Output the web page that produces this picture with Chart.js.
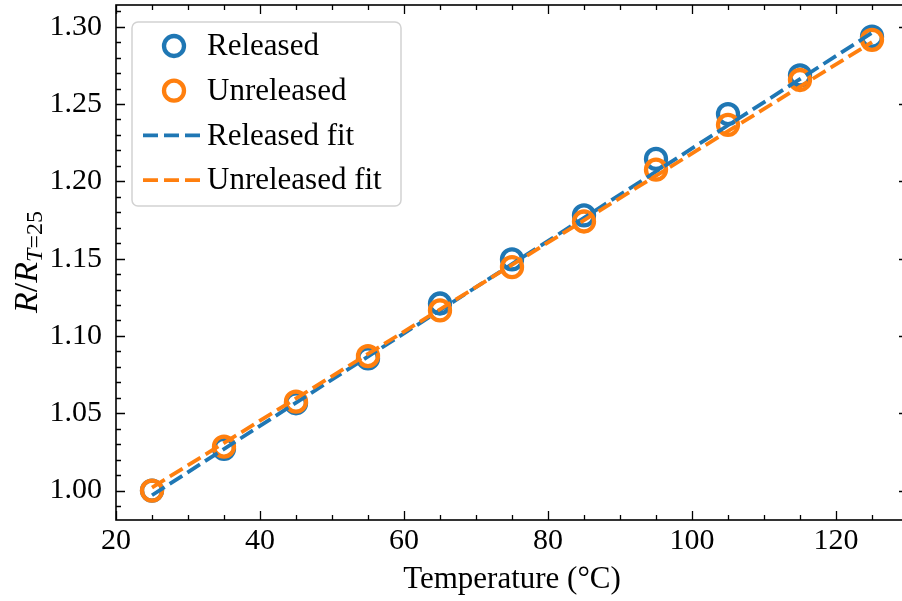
<!DOCTYPE html>
<html>
<head>
<meta charset="utf-8">
<script src="https://cdn.jsdelivr.net/npm/chart.js@4"></script>
<style>
  html, body { margin: 0; padding: 0; background: #fff; overflow: hidden; }
  #wrap { width: 902px; height: 601px; overflow: hidden; }
</style>
</head>
<body>
<div id="wrap"><canvas id="chart" width="910" height="601"></canvas></div>
<script>
// данные
const TEMPS = [25, 35, 45, 55, 65, 75, 85, 95, 105, 115, 125];
const RELEASED = [1.000, 1.027, 1.0565, 1.0855, 1.121, 1.1495, 1.178, 1.2145, 1.2435, 1.2685, 1.2935];
const UNRELEASED = [1.000, 1.0285, 1.0575, 1.087, 1.1165, 1.1445, 1.174, 1.2075, 1.2365, 1.2655, 1.2915];
const FIT_T = [25, 125];
const RELEASED_FIT = [0.997, 1.296];
const UNRELEASED_FIT = [1.002, 1.290];
const X_TICKS = [20, 40, 60, 80, 100, 120];
const Y_TICKS = [1.00, 1.05, 1.10, 1.15, 1.20, 1.25, 1.30];

const BLUE = '#1f77b4';
const ORANGE = '#ff7f0e';
const SERIF = '"Liberation Serif", "DejaVu Serif", serif';

function toPoints(xs, ys) {
  return xs.map((x, i) => ({ x: x, y: ys[i] }));
}

// убрать авто-отступы chart.js, чтобы область графика была на месте
function noPadding(scale) {
  scale.paddingLeft = 0;
  scale.paddingRight = 0;
  scale.paddingTop = 0;
  scale.paddingBottom = 0;
}

// рамка, тики внутрь, легенда и подпись оси Y
const decor = {
  id: 'decor',
  afterDraw(chart) {
    const ctx = chart.ctx;
    const a = chart.chartArea;
    const xs = chart.scales.x;
    const ys = chart.scales.y;

    ctx.save();
    ctx.strokeStyle = '#000';
    ctx.lineWidth = 1.6;
    ctx.strokeRect(a.left, a.top, a.right - a.left, a.bottom - a.top);

    ctx.lineWidth = 1.3;
    ctx.beginPath();
    for (let v = 20; v <= 130.001; v += 5) {
      const px = Math.round(xs.getPixelForValue(v)) + 0.5;
      const len = (Math.round(v) % 20 === 0) ? 9 : 5;
      ctx.moveTo(px, a.bottom); ctx.lineTo(px, a.bottom - len);
      ctx.moveTo(px, a.top); ctx.lineTo(px, a.top + len);
    }
    for (let k = 99; k <= 131; k++) {
      const v = k / 100;
      if (v < ys.min || v > ys.max) continue;
      const py = Math.round(ys.getPixelForValue(v)) + 0.5;
      const len = (k % 5 === 0) ? 9 : 5;
      ctx.moveTo(a.left, py); ctx.lineTo(a.left + len, py);
      ctx.moveTo(a.right, py); ctx.lineTo(a.right - len, py);
    }
    ctx.stroke();

    // легенда
    const bx = 132, by = 22, bw = 269, bh = 184, r = 6;
    ctx.beginPath();
    ctx.moveTo(bx + r, by);
    ctx.arcTo(bx + bw, by, bx + bw, by + bh, r);
    ctx.arcTo(bx + bw, by + bh, bx, by + bh, r);
    ctx.arcTo(bx, by + bh, bx, by, r);
    ctx.arcTo(bx, by, bx + bw, by, r);
    ctx.closePath();
    ctx.fillStyle = 'rgba(255,255,255,0.8)';
    ctx.fill();
    ctx.strokeStyle = '#d2d2d2';
    ctx.lineWidth = 1.5;
    ctx.stroke();

    ctx.font = '31px ' + SERIF;
    ctx.textBaseline = 'middle';
    ctx.textAlign = 'left';
    chart.data.datasets.forEach((ds, i) => {
      const cy = 46 + i * 44.7;
      if (ds.showLine) {
        ctx.strokeStyle = ds.borderColor;
        ctx.lineWidth = ds.borderWidth;
        ctx.setLineDash(ds.borderDash);
        ctx.beginPath();
        ctx.moveTo(143, cy); ctx.lineTo(204, cy);
        ctx.stroke();
        ctx.setLineDash([]);
      } else {
        ctx.strokeStyle = ds.borderColor;
        ctx.lineWidth = ds.borderWidth;
        ctx.beginPath();
        ctx.arc(174, cy, ds.pointRadius, 0, Math.PI * 2);
        ctx.stroke();
      }
      ctx.fillStyle = '#000';
      ctx.fillText(ds.label, 207, cy + 1);
    });

    // R/R_{T=25}
    ctx.translate(37, 262);
    ctx.rotate(-Math.PI / 2);
    ctx.textBaseline = 'alphabetic';
    ctx.fillStyle = '#000';
    const fMain = 'italic 34px ' + SERIF;
    const fUp = '34px ' + SERIF;
    const fSubI = 'italic 24px ' + SERIF;
    const fSub = '24px ' + SERIF;
    const parts = [
      [fMain, 'R', 0], [fUp, '/', 0], [fMain, 'R', 0],
      [fSubI, 'T', 5], [fSub, '=25', 5]
    ];
    let total = 0;
    parts.forEach(p => { ctx.font = p[0]; total += ctx.measureText(p[1]).width; });
    let x = -total / 2;
    parts.forEach(p => {
      ctx.font = p[0];
      ctx.fillText(p[1], x, p[2]);
      x += ctx.measureText(p[1]).width;
    });
    ctx.restore();
  }
};

const ctx = document.getElementById('chart').getContext('2d');
const myChart = new Chart(ctx, {
  type: 'scatter',
  data: {
    datasets: [
      {
        label: 'Released',
        data: toPoints(TEMPS, RELEASED),
        borderColor: BLUE,
        backgroundColor: 'rgba(0,0,0,0)',
        pointRadius: 10,
        pointBorderWidth: 4.3,
        borderWidth: 4.3,
        showLine: false,
        order: 4
      },
      {
        label: 'Unreleased',
        data: toPoints(TEMPS, UNRELEASED),
        borderColor: ORANGE,
        backgroundColor: 'rgba(0,0,0,0)',
        pointRadius: 10,
        pointBorderWidth: 4.3,
        borderWidth: 4.3,
        showLine: false,
        order: 3
      },
      {
        label: 'Released fit',
        data: toPoints(FIT_T, RELEASED_FIT),
        borderColor: BLUE,
        borderWidth: 3.8,
        borderDash: [15, 6],
        pointRadius: 0,
        showLine: true,
        fill: false,
        order: 2
      },
      {
        label: 'Unreleased fit',
        data: toPoints(FIT_T, UNRELEASED_FIT),
        borderColor: ORANGE,
        borderWidth: 3.8,
        borderDash: [15, 6],
        pointRadius: 0,
        showLine: true,
        fill: false,
        order: 1
      }
    ]
  },
  options: {
    responsive: false,
    animation: false,
    layout: { autoPadding: false, padding: { top: 5, right: 2, left: 0, bottom: 0 } },
    plugins: {
      legend: { display: false },
      tooltip: { enabled: false }
    },
    scales: {
      x: {
        type: 'linear',
        min: 20,
        max: 130,
        grid: { display: false, drawTicks: false },
        border: { display: false },
        afterBuildTicks: scale => { scale.ticks = X_TICKS.map(v => ({ value: v })); },
        afterFit: scale => { scale.height = 81; noPadding(scale); },
        ticks: {
          color: '#000',
          font: { family: SERIF, size: 30 },
          padding: 3,
          maxRotation: 0
        },
        title: {
          display: true,
          text: 'Temperature (°C)',
          color: '#000',
          font: { family: SERIF, size: 31 },
          padding: { top: 0, bottom: 3 }
        }
      },
      y: {
        type: 'linear',
        min: 0.981,
        max: 1.314,
        grid: { display: false, drawTicks: false },
        border: { display: false },
        afterBuildTicks: scale => { scale.ticks = Y_TICKS.map(v => ({ value: v })); },
        afterFit: scale => { scale.width = 116; noPadding(scale); },
        ticks: {
          color: '#000',
          font: { family: SERIF, size: 30 },
          padding: 14,
          callback: v => v.toFixed(2)
        }
      }
    }
  },
  plugins: [decor]
});
</script>
</body>
</html>
